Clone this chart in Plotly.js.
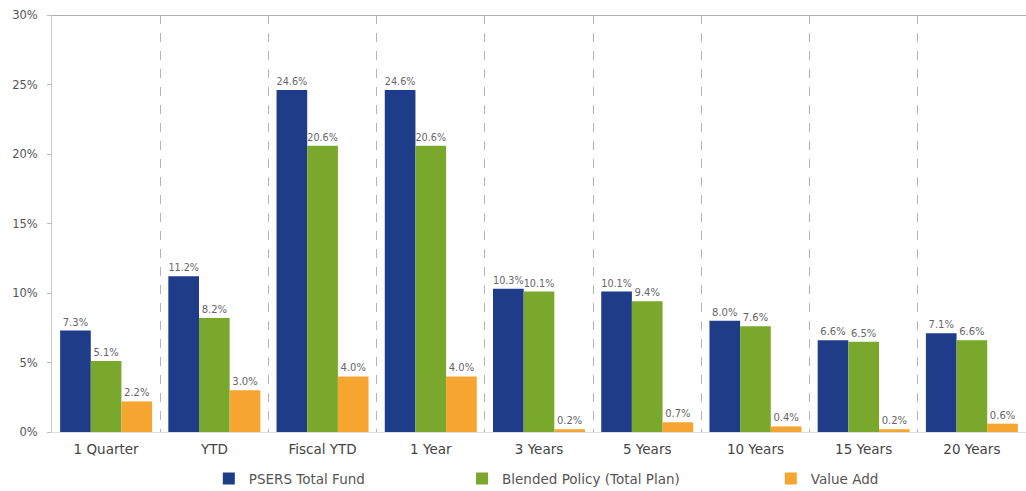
<!DOCTYPE html>
<html>
<head>
<meta charset="utf-8">
<script src="https://cdn.plot.ly/plotly-3.0.1.min.js"></script>
<style>html,body{margin:0;padding:0;background:#fff;}#chart{width:1026px;height:491px;}</style>
</head>
<body>
<div id="chart"></div>
<script>
const categories = ["1 Quarter", "YTD", "Fiscal YTD", "1 Year", "3 Years", "5 Years", "10 Years", "15 Years", "20 Years"];
const psersTotalFund = [7.3, 11.2, 24.6, 24.6, 10.3, 10.1, 8.0, 6.6, 7.1];
const blendedPolicy = [5.1, 8.2, 20.6, 20.6, 10.1, 9.4, 7.6, 6.5, 6.6];
const valueAdd = [2.2, 3.0, 4.0, 4.0, 0.2, 0.7, 0.4, 0.2, 0.6];
const seriesNames = ["PSERS Total Fund", "Blended Policy (Total Plan)", "Value Add"];
const yMax = 30;

const colors = ["#1f3c88", "#7aa82c", "#f6a531"];
const fontFam = "DejaVu Sans, Verdana, sans-serif";

function mk(vals, name, color, legendId) {
  return {
    type: "bar", x: categories, y: vals, name: name,
    marker: {color: color},
    text: vals.map(v => v.toFixed(1) + "%"),
    textposition: "outside", cliponaxis: false,
    textfont: {family: fontFam, size: 10, color: "#666"},
    legend: legendId,
    hoverinfo: "x+y"
  };
}
const data = [
  mk(psersTotalFund, seriesNames[0], colors[0], "legend"),
  mk(blendedPolicy, seriesNames[1], colors[1], "legend2"),
  mk(valueAdd, seriesNames[2], colors[2], "legend3")
];
function leg(x) {
  return {
    orientation: "h", x: x, y: -0.112, xanchor: "left", yanchor: "middle",
    itemwidth: 30, bgcolor: "rgba(0,0,0,0)",
    font: {family: fontFam, size: 13.5, color: "#555"}
  };
}
const layout = {
  width: 1026, height: 491,
  margin: {l: 52, r: 0, t: 15, b: 59, autoexpand: false},
  paper_bgcolor: "#fff", plot_bgcolor: "#fff",
  barmode: "group", bargap: 0.15, bargroupgap: 0,
  font: {family: fontFam, size: 12, color: "#555"},
  xaxis: {
    type: "category", tickson: "boundaries",
    showgrid: true, gridcolor: "#b8b2b4", griddash: "dash", gridwidth: 1.2,
    showline: true, linecolor: "#ddd", linewidth: 1,
    ticks: "", ticklabelstandoff: 5,
    tickfont: {family: fontFam, size: 13.5, color: "#444"},
    zeroline: false
  },
  yaxis: {
    range: [0, yMax], dtick: 5, ticksuffix: "%",
    showgrid: false, zeroline: false,
    showline: true, linecolor: "#ccc7c9", linewidth: 1,
    ticks: "outside", ticklen: 4, tickcolor: "#bbb", ticklabelstandoff: 7,
    tickfont: {family: fontFam, size: 11.5, color: "#555"}
  },
  shapes: [{type: "line", xref: "paper", x0: 0, x1: 1, yref: "y", y0: yMax, y1: yMax,
            line: {color: "#b3acae", width: 2}}],
  showlegend: true,
  legend: leg(0.161),
  legend2: leg(0.421),
  legend3: leg(0.738)
};
Plotly.newPlot("chart", data, layout, {displayModeBar: false, staticPlot: true});
</script>
</body>
</html>
